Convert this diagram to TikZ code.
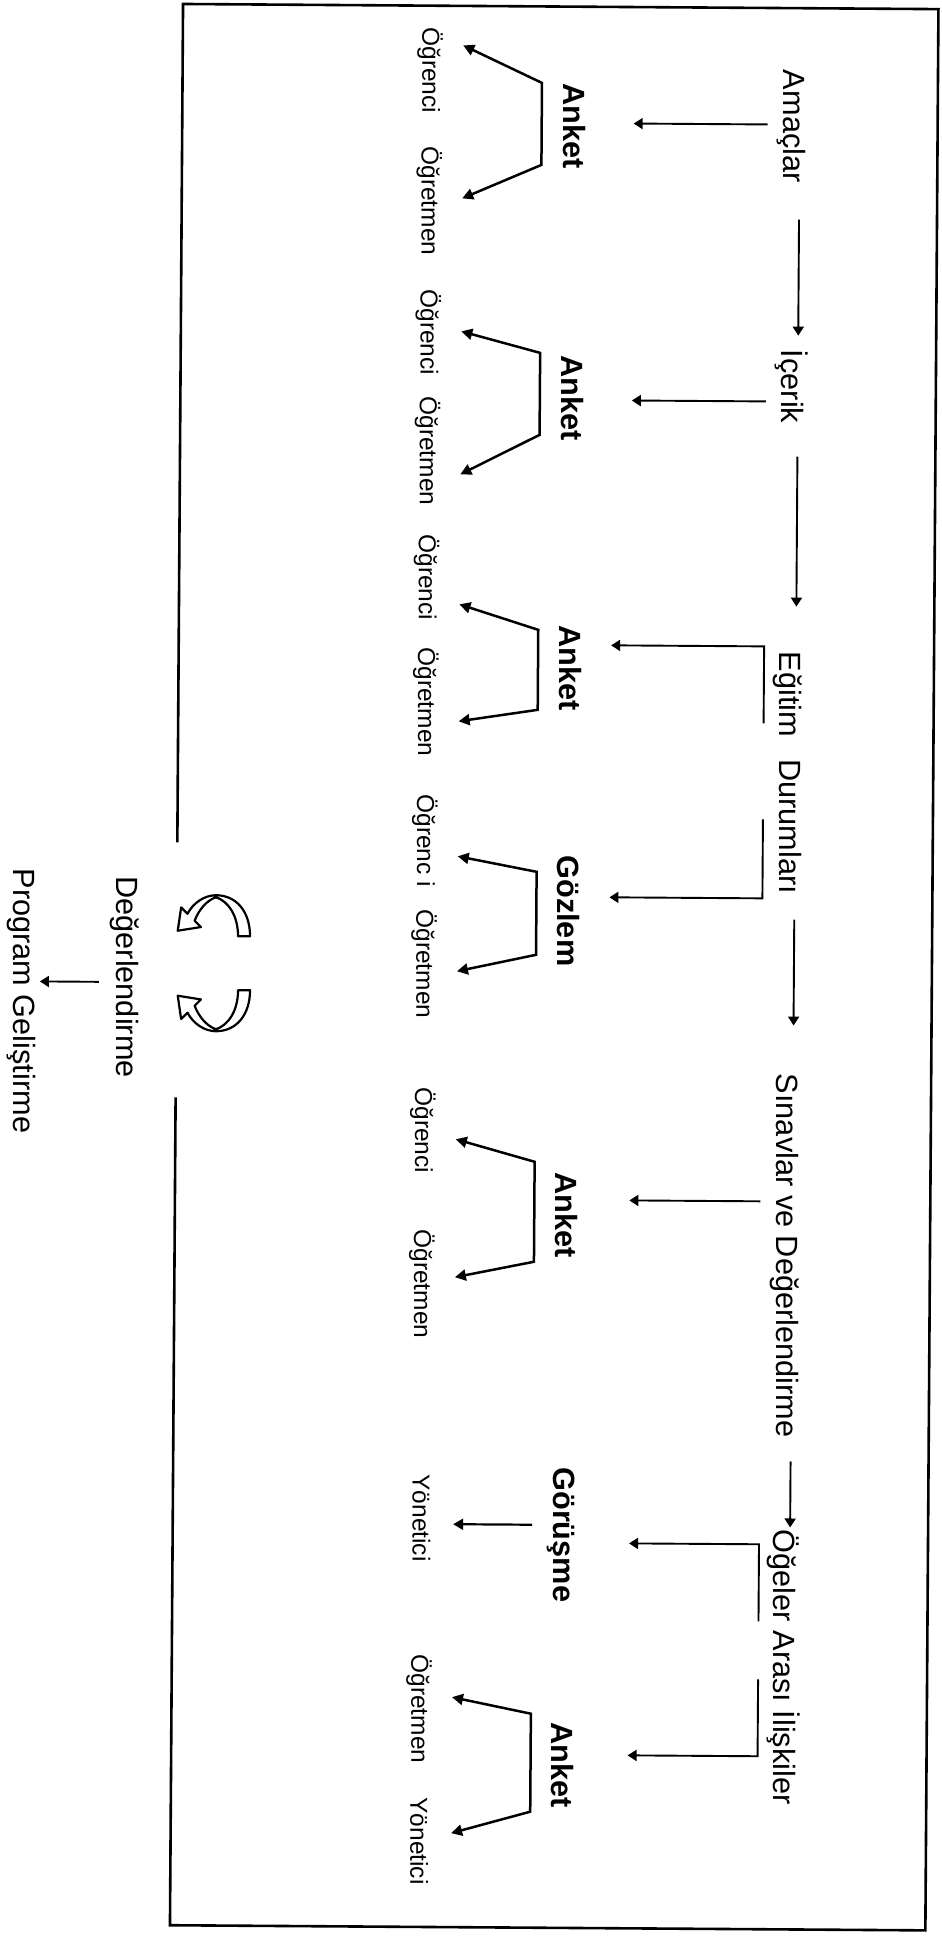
\documentclass[tikz,border=0pt]{standalone}
\usepackage{fontspec}
\setmainfont{Liberation Sans}
\usetikzlibrary{arrows.meta}
\newcommand\mainsz{\fontsize{15.35pt}{18pt}\selectfont}
\newcommand\leafsz{\fontsize{12.25pt}{15pt}\selectfont}
\begin{document}
\begin{tikzpicture}[x=0.5pt,y=-0.5pt,
  mainlbl/.style={font=\mainsz, rotate=-90, anchor=base west, inner sep=0pt},
  method/.style={font=\mainsz\bfseries, rotate=-90, anchor=base west, inner sep=0pt},
  leaf/.style={font=\leafsz, rotate=-90, anchor=base west, inner sep=0pt},
  conn/.style={line width=0.95pt, -{Triangle[length=4.5pt,width=5.5pt]}},
  forkline/.style={line width=1.25pt, {Triangle[length=5.5pt,width=5.5pt]}-{Triangle[length=5.5pt,width=5.5pt]}},
  forksingle/.style={line width=1.1pt, -{Triangle[length=5pt,width=5.5pt]}},
  framestyle/.style={line width=1.3pt},
  cycarrow/.pic={
    \draw[line width=1.1pt, fill=white, line join=round]
      (238,-27) -- (250,-27) .. controls (250,-52) and (236,-68) .. (216,-68)
      .. controls (204,-68) and (193,-60) .. (187.5,-49.5)
      -- (181.1,-55.8) -- (177.7,-32.5) -- (200.9,-36.2) -- (194.6,-42.5)
      .. controls (199,-54) and (207,-63) .. (216,-66)
      .. controls (228,-62) and (238,-48) .. (238,-27) -- cycle;
  }]
\useasboundingbox (0,0) rectangle (942,1940);
\fill[white] (0,0) rectangle (942,1940);
\begin{scope}[rotate around={-0.39:(556,967)}]
% frame with gap on the left
\coordinate (fgapA) at (176.5,845);
\coordinate (fTL) at (176.5,6.5);
\coordinate (fTR) at (932,6.5);
\coordinate (fBR) at (932,1928);
\coordinate (fBL) at (176.5,1928);
\coordinate (fgapB) at (176.5,1100);
\draw[framestyle] (fgapA) -- (fTL) -- (fTR) -- (fBR) -- (fBL) -- (fgapB);

% main chain
\node[mainlbl] (ama) at (777,68) {Amaçlar};
\node[mainlbl] (ice) at (777,348) {İçerik};
\node[mainlbl] (egi) at (777,650) {Eğitim\hspace{0.72em}Durumları};
\node[mainlbl] (sin) at (777,1072) {Sınavlar ve Değerlendirme};
\node[mainlbl] (oge) at (777,1528) {Öğeler Arası İlişkiler};

\coordinate (v1a) at (794,218); \coordinate (v1b) at (794,334);
\coordinate (v2a) at (794,455); \coordinate (v2b) at (794,605);
\coordinate (v3a) at (794,918); \coordinate (v3b) at (794,1024);
\coordinate (v4a) at (794,1460); \coordinate (v4b) at (794,1526);
\draw[conn] (v1a) -- (v1b);
\draw[conn] (v2a) -- (v2b);
\draw[conn] (v3a) -- (v3b);
\draw[conn] (v4a) -- (v4b);

% method nodes
\node[method] (ank1) at (557,83) {Anket};
\node[method] (ank2) at (557,355) {Anket};
\node[method] (ank3) at (557,625) {Anket};
\node[method] (goz) at (557,855) {Gözlem};
\node[method] (ank5) at (557,1172) {Anket};
\node[method] (gor) at (557,1467) {Görüşme};
\node[method] (ank6) at (557,1722) {Anket};

% main -> method connectors
\coordinate (h1a) at (762,123); \coordinate (h1b) at (628,123);
\coordinate (h2a) at (762,400); \coordinate (h2b) at (628,400);
\coordinate (h3s) at (762,722); \coordinate (h3c) at (762,645); \coordinate (h3b) at (609,645);
\coordinate (h4s) at (762,818); \coordinate (h4c) at (762,897); \coordinate (h4b) at (609,897);
\coordinate (h5a) at (762,1200); \coordinate (h5b) at (631,1200);
\coordinate (h6s) at (763,1620); \coordinate (h6c) at (763,1543); \coordinate (h6b) at (633,1543);
\coordinate (h7s) at (763,1678); \coordinate (h7c) at (763,1755); \coordinate (h7b) at (633,1755);
\draw[conn] (h1a) -- (h1b);
\draw[conn] (h2a) -- (h2b);
\draw[conn] (h3s) -- (h3c) -- (h3b);
\draw[conn] (h4s) -- (h4c) -- (h4b);
\draw[conn] (h5a) -- (h5b);
\draw[conn] (h6s) -- (h6c) -- (h6b);
\draw[conn] (h7s) -- (h7c) -- (h7b);

% leaves
\node[leaf] (l1a) at (416,28) {Öğrenci};
\node[leaf] (l1b) at (416,147) {Öğretmen};
\node[leaf] (l2a) at (416,290) {Öğrenci};
\node[leaf] (l2b) at (416,397) {Öğretmen};
\node[leaf] (l3a) at (416,535) {Öğrenci};
\node[leaf] (l3b) at (416,648) {Öğretmen};
\node[leaf] (l4a) at (416,795) {Öğrenc i};
\node[leaf] (l4b) at (416,910) {Öğretmen};
\node[leaf] (l5a) at (416,1088) {Öğrenci};
\node[leaf] (l5b) at (416,1230) {Öğretmen};
\node[leaf] (l6) at (416,1475) {Yönetici};
\node[leaf] (l7a) at (416,1655) {Öğretmen};
\node[leaf] (l7b) at (416,1798) {Yönetici};

% forks
\coordinate (f1u) at (457,46);  \coordinate (f1t) at (536,83);   \coordinate (f1b) at (536,165);  \coordinate (f1l) at (457,199);
\coordinate (f2u) at (457,332); \coordinate (f2t) at (536,353);  \coordinate (f2b) at (536,435);  \coordinate (f2l) at (457,475);
\coordinate (f3u) at (457,605); \coordinate (f3t) at (536,630);  \coordinate (f3b) at (536,710);  \coordinate (f3l) at (457,722);
\coordinate (f4u) at (457,857); \coordinate (f4t) at (536,872);  \coordinate (f4b) at (536,955);  \coordinate (f4l) at (457,972);
\coordinate (f5u) at (457,1140); \coordinate (f5t) at (536,1162); \coordinate (f5b) at (536,1262); \coordinate (f5l) at (457,1278);
\coordinate (f6u) at (457,1698); \coordinate (f6t) at (536,1714); \coordinate (f6b) at (536,1812); \coordinate (f6l) at (457,1834);
\coordinate (g1a) at (536,1525); \coordinate (g1b) at (457,1525);
\draw[forkline] (f1u) -- (f1t) -- (f1b) -- (f1l);
\draw[forkline] (f2u) -- (f2t) -- (f2b) -- (f2l);
\draw[forkline] (f3u) -- (f3t) -- (f3b) -- (f3l);
\draw[forkline] (f4u) -- (f4t) -- (f4b) -- (f4l);
\draw[forkline] (f5u) -- (f5t) -- (f5b) -- (f5l);
\draw[forkline] (f6u) -- (f6t) -- (f6b) -- (f6l);
\draw[forksingle] (g1a) -- (g1b);

% evaluation cycle
\pic at (0,967) {cycarrow};
\pic[yscale=-1] at (0,967) {cycarrow};
\node[mainlbl] (deg) at (116,879) {Değerlendirme};
\node[mainlbl] (prog) at (13,872) {Program Geliştirme};
\coordinate (pa) at (99,985); \coordinate (pb) at (40,985);
\draw[conn] (pa) -- (pb);
\end{scope}
\end{tikzpicture}
\end{document}
